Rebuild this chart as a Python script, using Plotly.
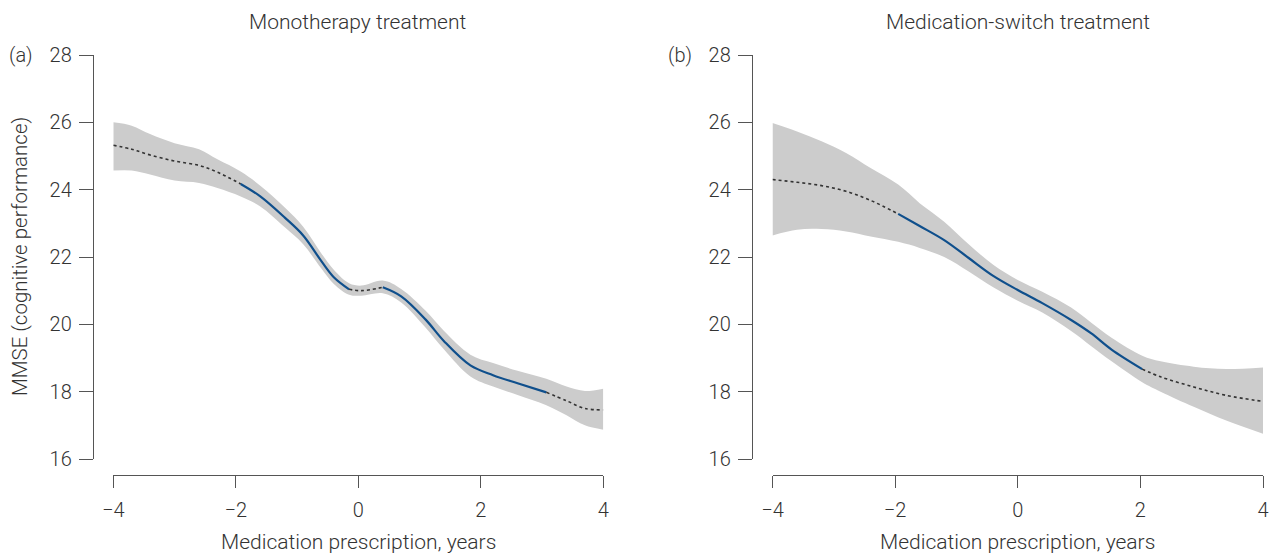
import plotly.graph_objects as go

# ---------------- data ----------------
years_ticks = [-4, -2, 0, 2, 4]
mmse_ticks = [16, 18, 20, 22, 24, 26, 28]

# (a) Monotherapy treatment
mono_x = [-4.0, -3.7, -3.4, -3.0, -2.6, -2.3, -1.92, -1.6, -1.2, -0.9, -0.6, -0.4,
          -0.15, 0.05, 0.4, 0.7, 1.1, 1.4, 1.83, 2.2, 2.6, 3.07, 3.4, 3.7, 4.0]
mono_fit = [25.32, 25.2, 25.03, 24.85, 24.72, 24.52, 24.17, 23.8, 23.17, 22.64, 21.87, 21.4,
            21.04, 21.0, 21.1, 20.83, 20.14, 19.5, 18.78, 18.49, 18.25, 17.98, 17.73, 17.5, 17.46]
mono_lo = [24.57, 24.57, 24.45, 24.27, 24.2, 24.05, 23.8, 23.5, 22.88, 22.38, 21.65, 21.2,
           20.88, 20.85, 20.92, 20.65, 19.9, 19.25, 18.45, 18.15, 17.9, 17.6, 17.3, 17.0, 16.87]
mono_hi = [26.0, 25.9, 25.65, 25.38, 25.2, 24.9, 24.54, 24.12, 23.47, 22.9, 22.1, 21.62,
           21.22, 21.15, 21.3, 21.05, 20.4, 19.8, 19.1, 18.85, 18.62, 18.38, 18.15, 18.02, 18.09]
mono_solid = [(-1.92, -0.15), (0.4, 3.07)]   # x-ranges drawn solid (rest dotted)

# (b) Medication-switch treatment
switch_x = [-4.0, -3.6, -3.2, -2.8, -2.4, -1.95, -1.6, -1.2, -0.8, -0.4, 0.0, 0.4,
            0.87, 1.2, 1.53, 2.03, 2.33, 2.87, 3.4, 4.0]
switch_fit = [24.3, 24.22, 24.12, 23.95, 23.68, 23.28, 22.92, 22.5, 21.97, 21.44, 21.02, 20.63,
              20.13, 19.73, 19.25, 18.67, 18.44, 18.14, 17.89, 17.71]
switch_lo = [22.64, 22.81, 22.83, 22.76, 22.61, 22.45, 22.27, 22.0, 21.57, 21.1, 20.7, 20.35,
             19.8, 19.35, 18.9, 18.28, 18.0, 17.55, 17.14, 16.75]
switch_hi = [25.98, 25.73, 25.44, 25.09, 24.64, 24.15, 23.6, 23.05, 22.38, 21.77, 21.32, 20.97,
             20.5, 20.05, 19.6, 19.07, 18.9, 18.74, 18.67, 18.72]
switch_solid = [(-1.95, 2.03)]

panel_titles = ["Monotherapy treatment", "Medication-switch treatment"]
panel_tags = ["(a)", "(b)"]
x_title = "Medication prescription, years"
y_title = "MMSE (cognitive performance)"

# ---------------- styling ----------------
W, H = 1270, 556
FONT = "Roboto"
TXT = "#333333"
AX = "#555555"
BAND = "#cccccc"
BLUE = "#0f4f8c"

def px_x(p):
    return p / W

def px_y(p):
    return 1 - p / H

fig = go.Figure()


def add_panel(xs, fit, lo, hi, solid, xa, ya):
    # confidence band
    fig.add_trace(go.Scatter(x=xs, y=lo, mode="lines", line=dict(width=0, shape="spline"),
                             hoverinfo="skip", showlegend=False, xaxis=xa, yaxis=ya))
    fig.add_trace(go.Scatter(x=xs, y=hi, mode="lines", line=dict(width=0, shape="spline"),
                             fill="tonexty", fillcolor=BAND, hoverinfo="skip",
                             showlegend=False, xaxis=xa, yaxis=ya))
    # split fit into dotted / solid pieces
    bounds = [xs[0]]
    for a, b in solid:
        bounds += [a, b]
    bounds.append(xs[-1])
    for k in range(len(bounds) - 1):
        a, b = bounds[k], bounds[k + 1]
        if b <= a:
            continue
        seg = [(x, y) for x, y in zip(xs, fit) if a - 1e-9 <= x <= b + 1e-9]
        is_solid = (k % 2 == 1)
        fig.add_trace(go.Scatter(
            x=[p[0] for p in seg], y=[p[1] for p in seg], mode="lines",
            line=dict(color=BLUE if is_solid else "#333333",
                      width=2.2 if is_solid else 1.6,
                      dash="solid" if is_solid else "dot", shape="spline"),
            hoverinfo="skip", showlegend=False, xaxis=xa, yaxis=ya))


add_panel(mono_x, mono_fit, mono_lo, mono_hi, mono_solid, "x", "y")
add_panel(switch_x, switch_fit, switch_lo, switch_hi, switch_solid, "x2", "y2")

# pixel geometry
y_top, y_bot = 55.0, 459.0          # y=28 and y=16
x_axis_line = 474.5
panels = [dict(x0=113.3, x1=603.3, yline=93.0),
          dict(x0=772.5, x1=1263.0, yline=752.0)]

tickfont = dict(family=FONT, size=20, color=TXT, weight=300)

common_x = dict(range=[-4, 4], tickvals=years_ticks, showgrid=False, zeroline=False,
                showline=True, linecolor=AX, linewidth=1.4, ticks="outside", ticklen=12,
                tickwidth=1.4, tickcolor=AX, tickfont=tickfont, anchor="free",
                position=px_y(x_axis_line), automargin=False, fixedrange=True,
                ticklabelstandoff=5)
common_y = dict(range=[16, 28], tickvals=mmse_ticks, showgrid=False, zeroline=False,
                showline=True, linecolor=AX, linewidth=1.4, ticks="outside", ticklen=14,
                tickwidth=1.4, tickcolor=AX, tickfont=tickfont, anchor="free",
                automargin=False, fixedrange=True, ticklabelstandoff=3,
                domain=[px_y(y_bot), px_y(y_top)])

fig.update_layout(
    width=W, height=H,
    margin=dict(l=0, r=0, t=0, b=0),
    paper_bgcolor="white", plot_bgcolor="white",
    showlegend=False,
    xaxis=dict(common_x, domain=[px_x(panels[0]["x0"]), px_x(panels[0]["x1"])]),
    yaxis=dict(common_y, position=px_x(panels[0]["yline"])),
    xaxis2=dict(common_x, domain=[px_x(panels[1]["x0"]), px_x(panels[1]["x1"])]),
    yaxis2=dict(common_y, position=px_x(panels[1]["yline"])),
)

annots = []
for i, p in enumerate(panels):
    cx = (p["x0"] + p["x1"]) / 2
    annots.append(dict(text=panel_titles[i], x=px_x(cx), y=px_y(22), xref="paper", yref="paper",
                       showarrow=False, xanchor="center", yanchor="middle",
                       font=dict(family=FONT, size=21, color=TXT, weight=300)))
    annots.append(dict(text=x_title, x=px_x(cx), y=px_y(542), xref="paper", yref="paper",
                       showarrow=False, xanchor="center", yanchor="middle",
                       font=dict(family=FONT, size=21, color=TXT, weight=300)))
    annots.append(dict(text=panel_tags[i], x=px_x(p["yline"] - 58), y=px_y(y_top),
                       xref="paper", yref="paper", showarrow=False, xanchor="right",
                       yanchor="middle", font=dict(family=FONT, size=20, color=TXT, weight=300)))
annots.append(dict(text=y_title, x=px_x(20), y=px_y((y_top + y_bot) / 2), xref="paper",
                   yref="paper", showarrow=False, textangle=-90, xanchor="center",
                   yanchor="middle", font=dict(family=FONT, size=20.5, color=TXT, weight=300)))
fig.update_layout(annotations=annots)

fig.write_html(
    "out.html",
    config={"displayModeBar": False},
    post_script="document.body.style.margin='0';document.body.style.overflow='hidden';",
)
